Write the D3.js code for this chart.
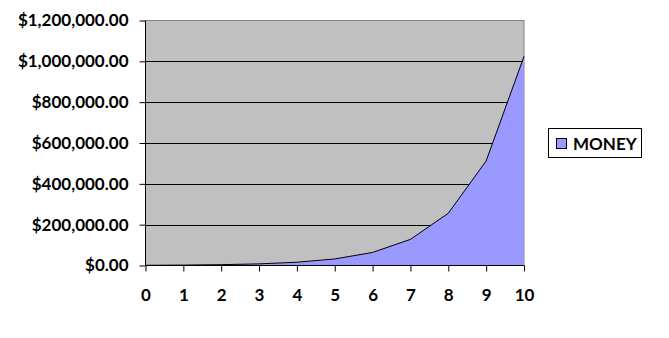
<!DOCTYPE html>
<html><head><meta charset="utf-8">
<script src="https://cdn.jsdelivr.net/npm/d3@7"></script>
<style>body{margin:0;background:#fff}svg{display:block}</style>
</head><body>
<script>
const categories = [0,1,2,3,4,5,6,7,8,9,10];
const money = [1000,2000,4000,8000,16000,32000,64000,128000,256000,512000,1024000];
const yTicks = [0,200000,400000,600000,800000,1000000,1200000];
const seriesName = "MONEY";

const W = 669, H = 338;
const m = {left:145.5, right:524, top:20.5, bottom:265.5};
const svg = d3.select("body").append("svg").attr("width",W).attr("height",H);
const font = "Lato, 'Liberation Sans', Arial, sans-serif";

const x = d3.scaleLinear().domain([0,10]).range([m.left, m.right]);
const y = d3.scaleLinear().domain([0,1200000]).range([m.bottom, m.top]);

svg.append("rect").attr("x",m.left).attr("y",m.top).attr("width",m.right-m.left).attr("height",m.bottom-m.top)
  .attr("fill","#c0c0c0").attr("stroke","#808080").attr("stroke-width",1);

// gridlines
svg.append("g").selectAll("line").data(yTicks.slice(1,-1)).join("line")
  .attr("x1",m.left).attr("x2",m.right).attr("y1",d=>Math.round(y(d))+0.5).attr("y2",d=>Math.round(y(d))+0.5)
  .attr("stroke","#000").attr("stroke-width",1);

const area = d3.area().x((d,i)=>x(categories[i])).y0(y(0)).y1(d=>y(d));
svg.append("path").datum(money).attr("d",area).attr("fill","#9999ff");
const line = d3.line().x((d,i)=>x(categories[i])).y(d=>y(d));
svg.append("path").datum(money).attr("d",line).attr("fill","none").attr("stroke","#000").attr("stroke-width",1);

const fmt = d => "$" + d3.format(",.2f")(d);
const yAxis = d3.axisLeft(y).tickValues(yTicks).tickFormat(fmt).tickSize(6).tickPadding(11);
const gy = svg.append("g").attr("transform",`translate(${m.left},0)`).call(yAxis);
const xAxis = d3.axisBottom(x).tickValues(categories).tickFormat(d3.format("d")).tickSize(6).tickPadding(17);
const gx = svg.append("g").attr("transform",`translate(0,${m.bottom})`).call(xAxis);
[gy,gx].forEach(g=>{
  g.selectAll(".domain").attr("stroke","#000");
  g.selectAll(".tick line").attr("stroke","#000");
  g.selectAll("text").attr("font-family",font).attr("font-weight","bold").attr("font-size",17).attr("fill","#000");
});
gy.selectAll(".domain").attr("d",`M0,${m.top}V${m.bottom}`);
gx.selectAll(".domain").attr("d",`M${m.left},0H${m.right}`);

// legend
const lg = svg.append("g");
lg.append("rect").attr("x",548.5).attr("y",128.5).attr("width",93).attr("height",29)
  .attr("fill","#fff").attr("stroke","#000");
lg.append("rect").attr("x",556.5).attr("y",138.5).attr("width",10).attr("height",10)
  .attr("fill","#9999ff").attr("stroke","#000");
lg.append("text").attr("x",573).attr("y",144).attr("dy","0.35em").text(seriesName)
  .attr("font-family",font).attr("font-weight","bold").attr("font-size",17).attr("fill","#000");
</script>
</body></html>
